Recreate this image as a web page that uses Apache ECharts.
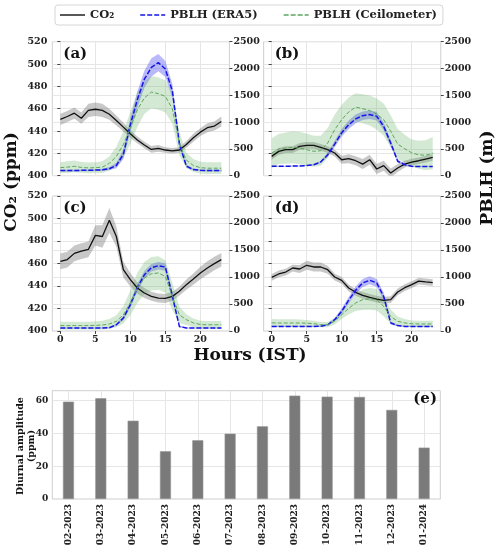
<!DOCTYPE html>
<html><head><meta charset="utf-8">
<script src="https://cdn.jsdelivr.net/npm/echarts@6/dist/echarts.min.js"></script>
<style>html,body{margin:0;padding:0;background:#fff}#c{width:500px;height:551px}</style>
</head><body><div id="c"></div>
<script>
// ---- data ----
const hours = [0,1,2,3,4,5,6,7,8,9,10,11,12,13,14,15,16,17,18,19,20,21,22,23];
const xTicks = [0,5,10,15,20];

// panel (a)
const co2A   = [450.5,453,456,451.5,458.5,459.5,458.5,455,449.5,443.5,437.5,432,427.5,423.5,424.5,423,422.3,423,428,434,439,443,444.5,448.5];
const co2SdA = [5,5,5,5,6,6,6,5,4.5,4,3.5,3,3,3,3,2.5,2.5,2.5,3,3.5,3.5,4,4,4.5];
const era5A   = [95,95,95,100,100,105,110,130,190,400,950,1420,1800,2020,2110,1990,1580,600,180,115,100,95,95,95];
const era5SdA = [15,15,15,15,15,15,20,30,50,90,130,150,160,170,160,150,130,80,30,20,15,15,15,15];
const ceilA   = [150,160,175,155,145,150,160,230,360,580,890,1230,1450,1560,1530,1480,1250,600,290,190,150,140,140,140];
const ceilSdA = [100,110,110,100,100,100,110,130,180,250,300,320,300,300,300,300,280,220,140,120,110,110,110,110];

// panel (b)
const co2B   = [417.3,421.8,423.3,423.3,426.3,427.2,427.2,425.4,423.3,420.3,414.3,415.2,413.4,410.4,414.3,406,409,402.4,406.9,410.4,412.2,413.4,414.9,416.4];
const co2SdB = [3,3,3,3,3,3,3,3,3,3,3.5,4,4,4.5,4.5,4.5,4.5,4,3.5,3,3,3,3,3];
const era5B   = [175,175,175,180,180,190,205,255,390,590,800,950,1060,1120,1140,1110,920,610,270,205,175,170,170,170];
const era5SdB = [10,10,10,10,10,10,15,20,40,60,70,80,80,80,80,80,70,60,30,15,10,10,10,10];
const ceilB   = [420,500,515,530,515,485,455,465,610,860,1045,1190,1280,1250,1215,1150,1045,830,590,505,425,390,380,420];
const ceilSdB = [280,280,290,300,300,300,290,280,280,280,280,270,260,270,280,290,300,300,280,260,250,260,280,300];

// panel (c)
const co2C   = [461.8,463.5,469,471,472.5,485,484,498.4,484,454.5,445.6,438.2,433.8,430.8,429.3,429,430.8,435.3,441.2,446.2,451.6,456,459.9,463.4];
const co2SdC = [7,7,7,7,7,9,10,11,9,7,6,5,4.5,4,4,4,4,4,4.5,5,5.5,6,6,6];
const era5C   = [55,55,55,55,55,55,55,60,115,240,490,800,1040,1170,1210,1185,650,85,55,55,55,55,55,55];
const era5SdC = [10,10,10,10,10,10,10,10,20,40,60,70,70,70,70,70,80,20,10,10,10,10,10,10];
const ceilC   = [100,100,100,100,100,105,110,130,180,300,520,800,980,1060,1075,1010,640,300,210,150,120,115,115,115];
const ceilSdC = [70,70,70,70,70,75,80,90,110,160,230,280,300,310,310,300,250,150,100,80,70,70,70,70];

// panel (d)
const co2D   = [447.7,450.7,452.4,456,455.1,458.4,456.9,456.9,454.5,448,445,438.2,434.4,431.7,429.9,428.4,427.3,427.9,434.7,438.5,441.2,444.4,443.6,443];
const co2SdD = [3,3,3,3,3.5,4,4,4,3.5,3,3,3,3,3,3,3,3,3,3,3,3,3,3,3];
const era5D   = [85,85,85,85,85,85,85,90,115,210,365,570,755,890,940,890,640,150,100,85,85,85,85,85];
const era5SdD = [10,10,10,10,10,10,10,10,15,30,50,60,70,75,75,75,70,30,10,10,10,10,10,10];
const ceilD   = [150,148,148,148,148,145,135,118,118,180,300,420,520,580,595,580,455,270,180,150,135,130,130,130];
const ceilSdD = [70,70,70,70,65,60,55,50,50,60,80,110,150,190,200,200,180,130,90,70,60,60,60,60];

// panel (e)
const months = ['02-2023','03-2023','04-2023','05-2023','06-2023','07-2023','08-2023','09-2023','10-2023','11-2023','12-2023','01-2024'];
const amplitude = [59.3,61.4,47.7,29.1,35.8,39.8,44.3,63.0,62.4,62.2,54.3,31.3];

const co2Ticks = {min:400, max:520, interval:20};
const pblhTicks = {min:0, max:2500, interval:500};
const ampTicks = {min:0, max:66, interval:20};

// ---- chart ----
const FONT = "'DejaVu Serif', serif";
const panels = [
  {co2:co2A, co2Sd:co2SdA, era5:era5A, era5Sd:era5SdA, ceil:ceilA, ceilSd:ceilSdA, tag:'(a)'},
  {co2:co2B, co2Sd:co2SdB, era5:era5B, era5Sd:era5SdB, ceil:ceilB, ceilSd:ceilSdB, tag:'(b)'},
  {co2:co2C, co2Sd:co2SdC, era5:era5C, era5Sd:era5SdC, ceil:ceilC, ceilSd:ceilSdC, tag:'(c)'},
  {co2:co2D, co2Sd:co2SdD, era5:era5D, era5Sd:era5SdD, ceil:ceilD, ceilSd:ceilSdD, tag:'(d)'}
];
const PW = 177.1;
const layout = [
  {left:52.3, top:41.7, height:134},
  {left:263.65, top:41.7, height:134},
  {left:52.3, top:196, height:135},
  {left:263.65, top:196, height:135}
];
const GRID = '#e6e6e6', SPINE = '#cfcfcf', TXT = '#222';
const tickStyle = {length:3, lineStyle:{color:'#444', width:1}};
const lblBase = {fontFamily:FONT, fontWeight:'bold', fontSize:9.5, color:TXT};
const plain = v => String(v);

const grids = [], xAxes = [], yAxes = [], series = [], graphics = [];

panels.forEach((p, i) => {
  const L = layout[i];
  grids.push({left:L.left, top:L.top, width:PW, height:L.height, show:true, borderColor:SPINE, borderWidth:1});
  xAxes.push({
    type:'value', gridIndex:i, min:-1.15, max:24.15,
    axisLine:{show:false},
    axisTick:Object.assign({show:i>=2, customValues:xTicks}, tickStyle),
    axisLabel:Object.assign({show:i>=2, customValues:xTicks, margin:4, formatter:plain}, lblBase),
    splitLine:{show:true, lineStyle:{color:GRID, width:1}}
  });
  yAxes.push({
    type:'value', gridIndex:i, position:'left', min:co2Ticks.min, max:co2Ticks.max, interval:co2Ticks.interval,
    axisLine:{show:false}, axisTick:Object.assign({show:true}, tickStyle),
    axisLabel:Object.assign({show:i%2===0, margin:5, formatter:plain}, lblBase),
    splitLine:{show:true, lineStyle:{color:GRID, width:1}}
  });
  yAxes.push({
    type:'value', gridIndex:i, position:'right', min:pblhTicks.min, max:pblhTicks.max, interval:pblhTicks.interval,
    axisLine:{show:false}, axisTick:Object.assign({show:true}, tickStyle),
    axisLabel:Object.assign({show:true, margin:4, formatter:plain}, lblBase),
    splitLine:{show:true, lineStyle:{color:GRID, width:1}}
  });

  const band = (mean, sd, yi, fill) => {
    series.push({
      type:'custom', name:'band', xAxisIndex:i, yAxisIndex:yi, silent:true, z:2, clip:true,
      data:hours.map((h,k)=>[h, mean[k]-sd[k], mean[k]+sd[k]]),
      encode:{x:0, y:[1,2]},
      renderItem:(params, api) => {
        if (params.dataIndex !== 0) return null;
        const up = hours.map((h,k)=>api.coord([h, mean[k]+sd[k]]));
        const lo = hours.map((h,k)=>api.coord([h, mean[k]-sd[k]])).reverse();
        return {type:'polygon', shape:{points:up.concat(lo)}, style:{fill:fill}};
      }
    });
  };
  const line = (name, mean, yi, color, width, type) => {
    series.push({
      type:'line', name:name, xAxisIndex:i, yAxisIndex:yi, symbol:'none', z:4,
      lineStyle:{color:color, width:width, type:type}, itemStyle:{color:color},
      data:hours.map((h,k)=>[h, mean[k]])
    });
  };
  band(p.co2, p.co2Sd, 2*i, 'rgba(110,110,110,0.38)');
  line('CO₂', p.co2, 2*i, '#111', 1.3, 'solid');
  band(p.era5, p.era5Sd, 2*i+1, 'rgba(80,80,240,0.40)');
  band(p.ceil, p.ceilSd, 2*i+1, 'rgba(96,176,96,0.28)');
  line('PBLH (ERA5)', p.era5, 2*i+1, '#1515e8', 1.5, [5,2]);
  line('PBLH (Ceilometer)', p.ceil, 2*i+1, '#5da65d', 1, [4,2]);

  graphics.push({type:'text', x:L.left+11, y:L.top+12.5, z:10,
    style:{text:p.tag, fontFamily:FONT, fontWeight:'bold', fontSize:15, fill:'#111', align:'left', verticalAlign:'middle'}});
});

// panel (e)
const barIdx = months.map((m,k)=>k);
grids.push({left:52.3, top:390.7, width:388, height:108.3, show:true, borderColor:SPINE, borderWidth:1});
xAxes.push({
  type:'value', gridIndex:4, min:-0.5, max:11.5,
  axisLine:{show:false},
  axisTick:{show:false, customValues:barIdx},
  axisLabel:Object.assign({customValues:barIdx, rotate:90, margin:5, formatter:v=>months[Math.round(v)]}, lblBase, {fontSize:9}),
  splitLine:{show:true, lineStyle:{color:GRID, width:1}}
});
yAxes.push({
  type:'value', gridIndex:4, min:ampTicks.min, max:ampTicks.max, interval:ampTicks.interval,
  axisLine:{show:false}, axisTick:{show:false},
  axisLabel:Object.assign({margin:4, showMaxLabel:false, formatter:plain}, lblBase, {fontSize:9}),
  splitLine:{show:true, showMaxLine:false, lineStyle:{color:GRID, width:1}}
});
series.push({
  type:'bar', name:'amp', xAxisIndex:4, yAxisIndex:8, barWidth:11, z:3,
  itemStyle:{color:'#7a7a7a', borderColor:'#949494', borderWidth:0.6},
  data:barIdx.map(k=>[k, amplitude[k]])
});

graphics.push(
  {type:'text', x:437, y:399, z:10, style:{text:'(e)', fontFamily:FONT, fontWeight:'bold', fontSize:15, fill:'#111', align:'right', verticalAlign:'middle'}},
  {type:'text', x:12, y:182, rotation:Math.PI/2, style:{text:'CO₂ (ppm)', fontFamily:FONT, fontWeight:'bold', fontSize:17, fill:'#111', align:'center', verticalAlign:'middle'}},
  {type:'text', x:488, y:178, rotation:Math.PI/2, style:{text:'PBLH (m)', fontFamily:FONT, fontWeight:'bold', fontSize:17, fill:'#111', align:'center', verticalAlign:'middle'}},
  {type:'text', x:250, y:356, style:{text:'Hours (IST)', fontFamily:FONT, fontWeight:'bold', fontSize:17, fill:'#111', align:'center', verticalAlign:'middle'}},
  {type:'text', x:26, y:446, rotation:Math.PI/2, style:{text:'Diurnal amplitude\n(ppm)', fontFamily:FONT, fontWeight:'bold', fontSize:9.5, lineHeight:11, fill:'#111', align:'center', verticalAlign:'middle'}}
);

const solidIcon = 'path://M0,0h25v1.4h-25z';
const dashIcon = 'path://M0,0h5v1.4h-5z M7,0h5v1.4h-5z M14,0h5v1.4h-5z M21,0h4v1.4h-4z';

const chart = echarts.init(document.getElementById('c'), null, {renderer:'canvas'});
chart.setOption({
  animation:false,
  backgroundColor:'#fff',
  legend:{
    data:[
      {name:'CO₂', icon:solidIcon, itemStyle:{color:'#111', borderWidth:0}},
      {name:'PBLH (ERA5)', icon:dashIcon, itemStyle:{color:'#1515e8', borderWidth:0}},
      {name:'PBLH (Ceilometer)', icon:dashIcon, itemStyle:{color:'#5da65d', borderWidth:0}}
    ],
    left:55, top:5, itemWidth:25, itemHeight:10, itemGap:26,
    padding:[4,6,4,5], borderColor:'#d6d6d6', borderWidth:1, borderRadius:3,
    textStyle:{fontFamily:FONT, fontWeight:'bold', fontSize:11.5, color:TXT}
  },
  grid:grids, xAxis:xAxes, yAxis:yAxes, series:series, graphic:graphics
});
</script></body></html>
